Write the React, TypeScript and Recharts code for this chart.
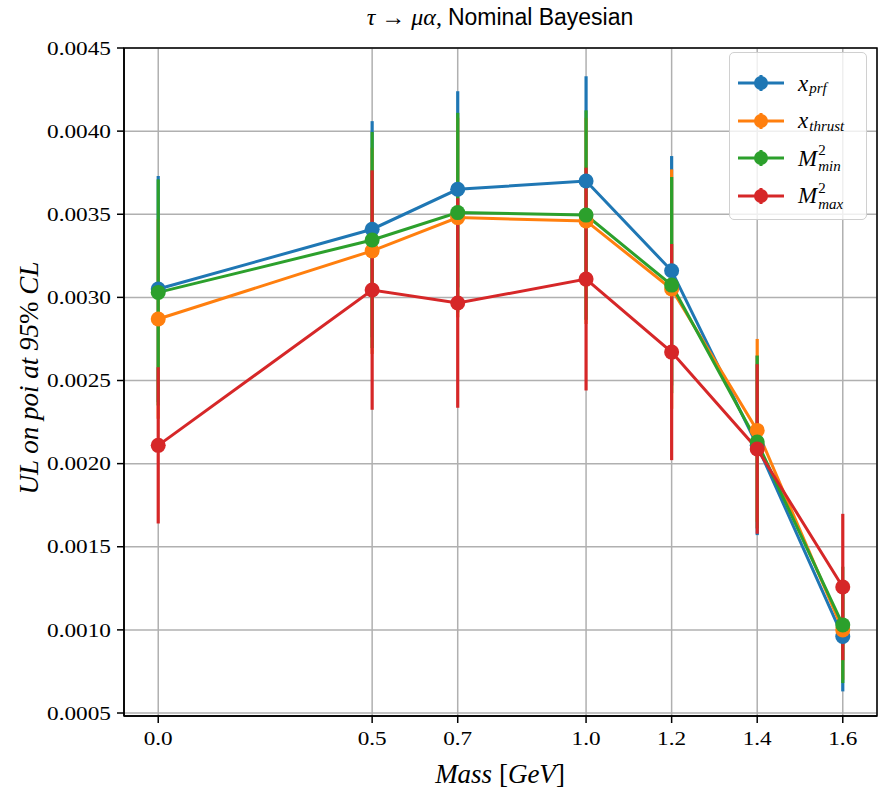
import React from 'react';
import { ComposedChart, Line, ErrorBar, XAxis, YAxis, CartesianGrid, ReferenceArea } from 'recharts';

// mass points (GeV)
const masses = [0.0, 0.5, 0.7, 1.0, 1.2, 1.4, 1.6];

const prf = [0.00305, 0.00341, 0.00365, 0.0037, 0.00316, 0.00211, 0.00096];
const prfErr = [0.00068, 0.00065, 0.00059, 0.00063, 0.00069, 0.00054, 0.00033];

const thrust = [0.00287, 0.00328, 0.00348, 0.00346, 0.00305, 0.0022, 0.001];
const thrustErr = [0.0006, 0.00062, 0.0006, 0.00062, 0.00072, 0.00055, 0.0003];

const m2min = [0.00303, 0.003345, 0.00351, 0.003495, 0.003074, 0.00213, 0.00103];
const m2minErr = [0.00068, 0.00065, 0.0006, 0.00063, 0.00065, 0.00052, 0.00035];

const m2max = [0.00211, 0.003044, 0.002966, 0.00311, 0.002671, 0.002088, 0.001258];
const m2maxErr = [0.00047, 0.00072, 0.00063, 0.00067, 0.00065, 0.00051, 0.00044];

const yTicks = [0.0005, 0.001, 0.0015, 0.002, 0.0025, 0.003, 0.0035, 0.004, 0.0045];

const series = [
  { key: 'prf', color: '#1f77b4', base: 'x', sub: 'prf', sup: '' },
  { key: 'thrust', color: '#ff7f0e', base: 'x', sub: 'thrust', sup: '' },
  { key: 'm2min', color: '#2ca02c', base: 'M', sub: 'min', sup: '2' },
  { key: 'm2max', color: '#d62728', base: 'M', sub: 'max', sup: '2' },
];

const data = masses.map((m, i) => ({
  mass: m,
  prf: prf[i], prfErr: prfErr[i],
  thrust: thrust[i], thrustErr: thrustErr[i],
  m2min: m2min[i], m2minErr: m2minErr[i],
  m2max: m2max[i], m2maxErr: m2maxErr[i],
}));

const SERIF = '"Liberation Serif", "DejaVu Serif", serif';

const XTick = ({ x, y, payload }: any) => (
  <text x={x} y={y + 7} dy="0.71em" textAnchor="middle" fontFamily={SERIF} fontSize={19} fill="#000"
    textLength={29} lengthAdjust="spacingAndGlyphs">
    {Number(payload.value).toFixed(1)}
  </text>
);

const YTick = ({ x, y, payload }: any) => (
  <text x={x} y={y} dy="0.35em" textAnchor="end" fontFamily={SERIF} fontSize={19} fill="#000"
    textLength={64} lengthAdjust="spacingAndGlyphs">
    {Number(payload.value).toFixed(4)}
  </text>
);

export default function App() {
  return (
    <div style={{ position: 'absolute', left: 0, top: 0, width: 885, height: 798, background: '#fff' }}>
      {/* title */}
      <div style={{ position: 'absolute', top: 4, left: 0, width: 1000, textAlign: 'center', fontSize: 24, color: '#000' }}>
        <span style={{ fontFamily: SERIF, fontStyle: 'italic' }}>τ</span>
        <span style={{ fontFamily: SERIF }}> → </span>
        <span style={{ fontFamily: SERIF, fontStyle: 'italic' }}>μα</span>
        <span style={{ fontFamily: SERIF }}>, </span>
        <span style={{ fontFamily: '"Liberation Sans", sans-serif', fontSize: 23 }}>Nominal Bayesian</span>
      </div>

      <ComposedChart width={885} height={798} data={data} margin={{ top: 48, right: 8, bottom: 42, left: 24 }}>
        <CartesianGrid stroke="#b0b0b0" strokeWidth={1.5} />
        <XAxis dataKey="mass" type="number" domain={[-0.08, 1.68]} ticks={masses} tick={<XTick />}
          tickSize={7} stroke="#000" strokeWidth={1.5} height={40} allowDataOverflow />
        <YAxis type="number" domain={[0.000482, 0.0045]} ticks={yTicks} tick={<YTick />}
          tickSize={7} tickMargin={6} stroke="#000" strokeWidth={1.5} width={100} allowDataOverflow />
        <ReferenceArea x1={-0.08} x2={1.68} y1={0.000482} y2={0.0045} fill="none" stroke="#000" strokeWidth={1.5} ifOverflow="visible" />

        {/* error bars go below every line and marker */}
        {series.map(s => (
          <Line key={s.key + '-err'} dataKey={s.key} stroke="none" dot={false} activeDot={false}
            legendType="none" isAnimationActive={false}>
            <ErrorBar dataKey={s.key + 'Err'} width={0} stroke={s.color} strokeWidth={3.2} direction="y" isAnimationActive={false} />
          </Line>
        ))}

        {series.map(s => (
          <Line key={s.key} dataKey={s.key} stroke={s.color} strokeWidth={3}
            dot={{ r: 7.5, fill: s.color, stroke: s.color, strokeWidth: 0 }} activeDot={false}
            isAnimationActive={false} />
        ))}
      </ComposedChart>

      {/* legend */}
      <div style={{
        position: 'absolute', left: 729, top: 52, width: 138, height: 168, boxSizing: 'border-box',
        background: 'rgba(255,255,255,0.8)', border: '1.5px solid #d0d0d0', borderRadius: 5,
      }}>
        {series.map((s, i) => (
          <div key={s.key} style={{ position: 'absolute', left: 7, top: 12 + i * 37.5, height: 36, display: 'flex', alignItems: 'center' }}>
            <svg width={48} height={20}>
              <line x1={1} y1={10} x2={47} y2={10} stroke={s.color} strokeWidth={3} />
              <line x1={24} y1={2} x2={24} y2={18} stroke={s.color} strokeWidth={3} />
              <circle cx={24} cy={10} r={7} fill={s.color} />
            </svg>
            <span style={{ marginLeft: 13, fontFamily: SERIF, fontStyle: 'italic', fontSize: 23, color: '#000', lineHeight: 1 }}>
              {s.base}
            </span>
            <span style={{ display: 'flex', flexDirection: 'column', fontFamily: SERIF, fontStyle: 'italic', fontSize: 15, color: '#000', marginLeft: 1 }}>
              <span style={{ fontStyle: 'normal', lineHeight: '16px', height: 16 }}>{s.sup}</span>
              <span style={{ lineHeight: '16px', height: 16, marginTop: s.sup ? 0 : -6 }}>{s.sub}</span>
            </span>
          </div>
        ))}
      </div>

      {/* axis labels */}
      <div style={{ position: 'absolute', left: 400, top: 759, width: 200, textAlign: 'center', fontFamily: SERIF, fontStyle: 'italic', fontSize: 27, color: '#000' }}>
        Mass <span style={{ fontStyle: 'normal' }}>[</span>GeV<span style={{ fontStyle: 'normal' }}>]</span>
      </div>
      <div style={{
        position: 'absolute', left: 30, top: 378, width: 300, marginLeft: -150, marginTop: -16, height: 32,
        transform: 'rotate(-90deg)', textAlign: 'center', fontFamily: SERIF, fontStyle: 'italic', fontSize: 27, color: '#000', whiteSpace: 'nowrap',
      }}>
        UL on poi at 95<span style={{ fontStyle: 'normal' }}>%</span> CL
      </div>
    </div>
  );
}
